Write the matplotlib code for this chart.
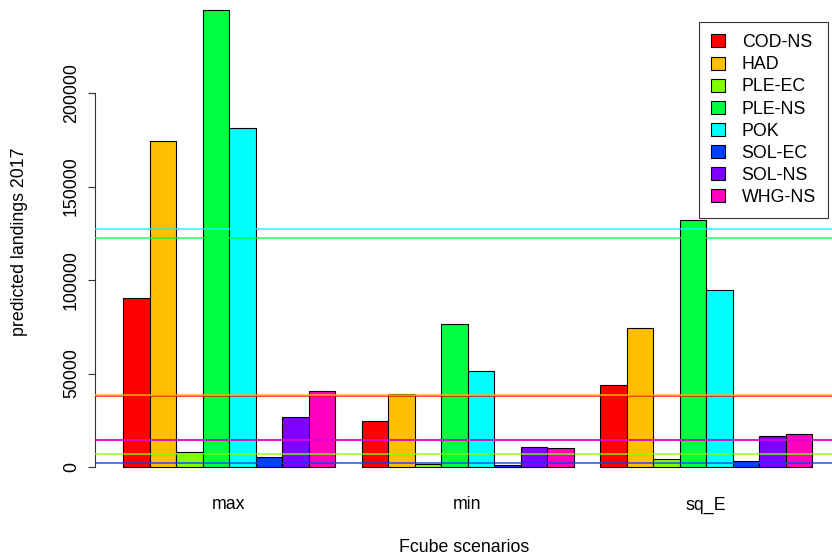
import matplotlib
matplotlib.use("Agg")
import matplotlib.pyplot as plt
from matplotlib.patches import Patch

plt.rcParams['font.family'] = ['Liberation Sans', 'DejaVu Sans']

scenarios = ["max", "min", "sq_E"]
stocks = ["COD-NS", "HAD", "PLE-EC", "PLE-NS", "POK", "SOL-EC", "SOL-NS", "WHG-NS"]
colors = ["#FF0000", "#FFBF00", "#80FF00", "#00FF40", "#00FFFF", "#0040FF", "#8000FF", "#FF00BF"]

landings_max = [90500, 174400, 8000, 244500, 181400, 5300, 26700, 40600]
landings_min = [24600, 39000, 1600, 76500, 51400, 1000, 10700, 10200]
landings_sqE = [43900, 74400, 4300, 132100, 94700, 3200, 16600, 17700]
reference_levels = [38000, 38600, 7000, 122500, 127300, 2100, 14300, 14500]

yticks = [0, 50000, 100000, 150000, 200000]

FS = 12.8
W, H = 832, 554
fig = plt.figure(figsize=(W / 100, H / 100), dpi=100)

unit = 26.5
x0px = 96.5
left_px = 95.4
ax_left = left_px / W
ax_bottom = (H - 485.3) / H
ax = fig.add_axes([ax_left, ax_bottom, 1 - ax_left, 1 - ax_bottom])
ax.set_xlim((left_px - x0px) / unit, (W - x0px) / unit)
ax.set_ylim(-9787, 249750)

groups = [landings_max, landings_min, landings_sqE]
starts = [1, 10, 19]
for g, vals in enumerate(groups):
    for i, v in enumerate(vals):
        ax.bar(starts[g] + i, v, width=1, align='edge', color=colors[i],
               edgecolor='black', linewidth=0.8, zorder=2)

for lvl, c in zip(reference_levels, colors):
    ax.axhline(lvl, color=c, linewidth=1.4, alpha=0.7, zorder=3)

for s in ['top', 'right', 'bottom']:
    ax.spines[s].set_visible(False)
ax.spines['left'].set_bounds(0, 200000)
ax.spines['left'].set_linewidth(0.8)
ax.spines['left'].set_color('#333333')
ax.set_yticks(yticks)
ax.set_yticklabels([str(t) for t in yticks], rotation=90, va='center', fontsize=FS)
ax.tick_params(axis='y', length=5, width=0.8, pad=6, color='#333333')

ax.set_xticks([s + 4 for s in starts])
ax.set_xticklabels(scenarios, fontsize=FS)
ax.tick_params(axis='x', length=0, pad=8)

ax.set_xlabel("Fcube scenarios", fontsize=FS, labelpad=18)
ax.set_ylabel("predicted landings 2017", fontsize=FS)
ax.yaxis.set_label_coords(-(left_px - 28) / (W - left_px), (485.3 - 242) / 485.3)

handles = [Patch(facecolor=c, edgecolor='black', linewidth=0.8) for c in colors]
leg = ax.legend(handles, stocks, loc='upper right', bbox_to_anchor=(828 / W, 1 - 22 / H),
                bbox_transform=fig.transFigure, fontsize=FS, frameon=True, fancybox=False,
                edgecolor='black', borderpad=0.68, labelspacing=0.29, handlelength=0.75,
                handleheight=0.75, handletextpad=0.95, borderaxespad=0)
leg.get_frame().set_linewidth(0.8)

fig.savefig("out.png", dpi=100)
